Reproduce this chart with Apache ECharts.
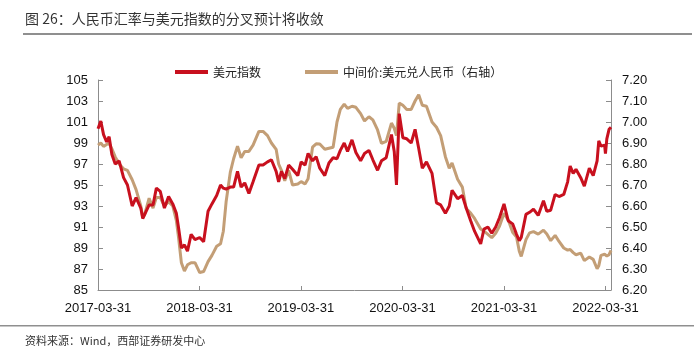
<!DOCTYPE html>
<html><head><meta charset="utf-8">
<script src="https://cdn.jsdelivr.net/npm/echarts@6/dist/echarts.min.js"></script>
<style>html,body{margin:0;padding:0;background:#fff}#c{width:694px;height:357px}</style>
</head><body><div id="c"></div>
<script>
var dates = ['2017-03-31','2017-04-10','2017-04-20','2017-05-01','2017-05-10','2017-05-20','2017-06-01','2017-06-15','2017-07-01','2017-07-15',
'2017-08-01','2017-08-15','2017-09-01','2017-09-08','2017-09-15','2017-10-01','2017-10-15','2017-10-27','2017-11-10','2017-11-25',
'2017-12-10','2017-12-25','2018-01-07','2018-01-15','2018-01-25','2018-02-05','2018-02-16','2018-03-01','2018-03-15','2018-04-01',
'2018-04-15','2018-05-01','2018-05-15','2018-06-01','2018-06-15','2018-06-25','2018-07-05','2018-07-20','2018-08-01','2018-08-15',
'2018-08-28','2018-09-10','2018-09-25','2018-10-10','2018-10-31','2018-11-15','2018-12-01','2018-12-15','2019-01-01','2019-01-10',
'2019-01-20','2019-02-01','2019-02-15','2019-03-01','2019-03-20','2019-04-01','2019-04-15','2019-04-26','2019-05-12','2019-05-25',
'2019-06-07','2019-06-25','2019-07-10','2019-07-25','2019-08-08','2019-08-20','2019-09-03','2019-09-15','2019-10-01','2019-10-15',
'2019-11-01','2019-11-15','2019-12-01','2019-12-15','2020-01-01','2020-01-15','2020-02-01','2020-02-20','2020-03-01','2020-03-09',
'2020-03-19','2020-04-01','2020-04-15','2020-05-01','2020-05-15','2020-05-28','2020-06-10','2020-06-25','2020-07-15','2020-07-31',
'2020-08-15','2020-09-01','2020-09-15','2020-09-25','2020-10-15','2020-11-01','2020-11-15','2020-12-01','2020-12-15','2021-01-06',
'2021-01-18','2021-02-01','2021-02-15','2021-03-01','2021-03-15','2021-03-31','2021-04-15','2021-05-01','2021-05-15','2021-05-25',
'2021-06-01','2021-06-18','2021-07-01','2021-07-15','2021-08-01','2021-08-20','2021-09-01','2021-09-15','2021-10-01','2021-10-15',
'2021-11-01','2021-11-15','2021-11-24','2021-12-05','2021-12-15','2022-01-01','2022-01-14','2022-02-01','2022-02-15','2022-03-01',
'2022-03-07','2022-03-15','2022-03-28','2022-03-31','2022-04-05','2022-04-13','2022-04-20'];

var usdIndex = [100.35,101.1,99.8,99.1,99.6,97.9,97.0,97.3,95.7,95.0,
93.0,93.8,92.8,91.8,91.9,93.1,93.1,94.7,94.4,92.8,
93.9,93.2,92.3,90.9,89.0,89.3,88.7,90.3,89.8,90.0,
89.6,92.5,93.2,94.0,95.0,94.7,94.6,94.8,94.8,96.3,
94.8,95.2,94.2,95.3,96.9,96.9,97.2,97.4,96.3,95.3,
96.3,95.6,96.9,96.5,95.9,97.2,96.9,98.0,97.3,97.7,
96.6,95.9,97.1,97.6,97.5,98.3,99.0,98.2,99.3,98.1,
97.3,98.0,98.3,97.4,96.4,97.3,97.6,99.8,98.2,95.0,
101.8,99.5,99.4,99.0,100.3,98.5,96.6,97.2,96.1,93.3,
93.1,92.3,93.0,94.5,93.7,94.0,92.8,91.6,90.6,89.4,
90.8,91.0,90.4,91.0,91.9,93.2,91.6,91.3,90.3,89.7,
90.0,92.2,92.4,92.7,92.1,93.5,92.5,92.6,94.1,93.9,
94.1,95.3,96.8,96.1,96.5,95.7,94.9,96.6,95.9,97.3,
99.2,98.7,98.8,98.0,99.4,100.3,100.5];

var cnyMid = [6.890,6.900,6.884,6.893,6.898,6.872,6.834,6.800,6.777,6.770,
6.725,6.678,6.600,6.545,6.560,6.637,6.590,6.640,6.640,6.600,
6.620,6.600,6.530,6.448,6.330,6.290,6.320,6.330,6.330,6.283,
6.288,6.335,6.365,6.408,6.420,6.480,6.620,6.760,6.825,6.885,
6.830,6.860,6.860,6.890,6.955,6.955,6.935,6.900,6.870,6.800,
6.770,6.720,6.770,6.700,6.705,6.716,6.705,6.730,6.880,6.896,
6.895,6.870,6.875,6.880,7.000,7.060,7.085,7.065,7.075,7.070,
7.040,7.005,7.025,7.010,6.962,6.898,6.908,6.995,6.970,6.935,
7.090,7.080,7.060,7.060,7.100,7.130,7.080,7.075,7.000,6.975,
6.935,6.835,6.780,6.805,6.727,6.690,6.588,6.566,6.541,6.490,
6.480,6.465,6.449,6.470,6.505,6.565,6.534,6.475,6.452,6.385,
6.360,6.440,6.472,6.478,6.466,6.485,6.467,6.435,6.460,6.431,
6.400,6.390,6.393,6.378,6.368,6.376,6.340,6.357,6.346,6.301,
6.315,6.365,6.370,6.370,6.362,6.368,6.389];

var xTickDates = ['2017-03-31','2018-03-31','2019-03-31','2020-03-31','2021-03-31','2022-03-31'];
var seriesNames = ['美元指数','中间价:美元兑人民币（右轴）'];
var titleText = '图 26：人民币汇率与美元指数的分叉预计将收敛';
var sourceText = '资料来源：Wind，西部证券研发中心';

function ts(s){var p=s.split('-');return Date.UTC(+p[0],+p[1]-1,+p[2]);}
function pad(n){return n<10?'0'+n:''+n;}
function fmt(v){var d=new Date(v);return d.getUTCFullYear()+'-'+pad(d.getUTCMonth()+1)+'-'+pad(d.getUTCDate());}

var tickVals = xTickDates.map(ts);
var s1 = dates.map(function(d,i){return [ts(d), usdIndex[i]];});
var s2 = dates.map(function(d,i){return [ts(d), cnyMid[i]];});

var axisCol = '#8c8c8c';
var chart = echarts.init(document.getElementById('c'), null, {renderer:'canvas'});
chart.setOption({
  animation:false,
  backgroundColor:'#fff',
  grid:{left:98,right:83,top:80,bottom:67,containLabel:false},
  legend:{
    left:170, top:61, itemWidth:33, itemHeight:4, itemGap:44, icon:'rect',
    textStyle:{fontFamily:'Noto Sans CJK SC',fontSize:12,color:'#222'},
    data:seriesNames
  },
  graphic:[
    {type:'text',left:25,top:12,style:{text:titleText,fontFamily:'Noto Sans CJK SC',fontSize:14,fill:'#333'}},
    {type:'rect',shape:{x:23,y:33,width:669,height:2},style:{fill:'#8f8f8f'}},
    {type:'rect',shape:{x:0,y:325,width:694,height:1.5},style:{fill:'#8f8f8f'}},
    {type:'text',left:25,top:335,style:{text:sourceText,fontFamily:'Noto Sans CJK SC',fontSize:11,fill:'#333'}}
  ],
  xAxis:{
    type:'value', min:ts('2017-03-31'), max:ts('2022-04-20'),
    axisLine:{show:true,lineStyle:{color:axisCol,width:1}},
    axisTick:{show:true,inside:true,length:4,customValues:tickVals,lineStyle:{color:axisCol}},
    axisLabel:{customValues:tickVals,formatter:function(v){return fmt(v);},color:'#111',fontFamily:'Liberation Sans',fontSize:13,margin:12},
    splitLine:{show:false}
  },
  yAxis:[
    {type:'value',min:85,max:105,interval:2,position:'left',
     axisLine:{show:true,lineStyle:{color:axisCol}},
     axisTick:{show:true,inside:true,length:5,lineStyle:{color:axisCol}},
     axisLabel:{color:'#111',fontFamily:'Liberation Sans',fontSize:13,margin:10},
     splitLine:{show:false}},
    {type:'value',min:6.2,max:7.2,interval:0.1,position:'right',
     axisLine:{show:true,lineStyle:{color:axisCol}},
     axisTick:{show:true,inside:true,length:5,lineStyle:{color:axisCol}},
     axisLabel:{color:'#111',fontFamily:'Liberation Sans',fontSize:13,margin:11,formatter:function(v){return v.toFixed(2);}},
     splitLine:{show:false}}
  ],
  series:[
    {name:seriesNames[0],type:'line',yAxisIndex:0,data:s1,showSymbol:false,symbol:'none',
     lineStyle:{color:'#c8101e',width:3},itemStyle:{color:'#c8101e'},z:3},
    {name:seriesNames[1],type:'line',yAxisIndex:1,data:s2,showSymbol:false,symbol:'none',
     lineStyle:{color:'#c39e76',width:3},itemStyle:{color:'#c39e76'},z:2}
  ]
});
</script></body></html>
